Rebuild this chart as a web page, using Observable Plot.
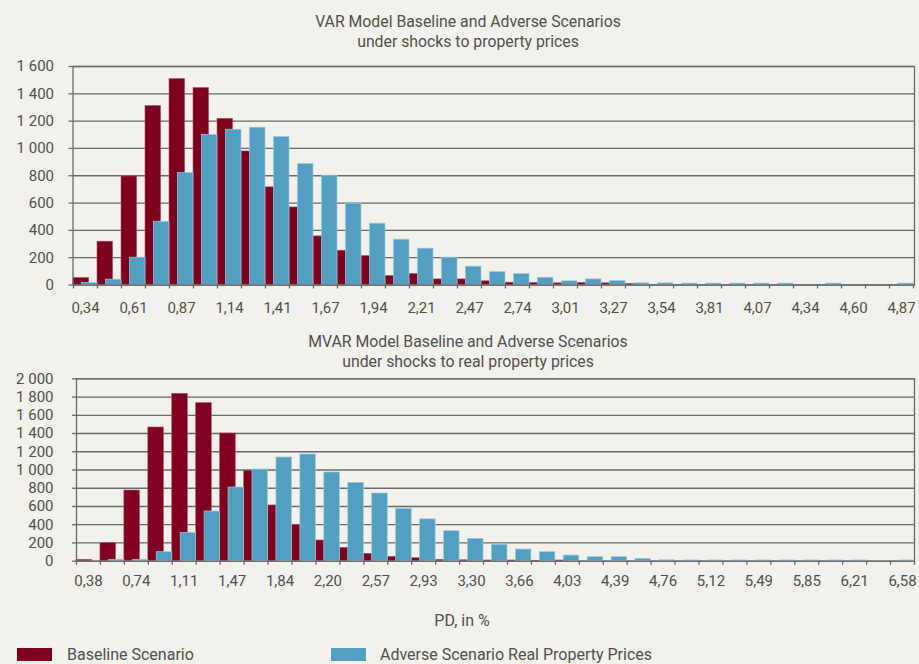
<!DOCTYPE html>
<html>
<head>
<meta charset="utf-8">
<script src="https://cdn.jsdelivr.net/npm/d3@7"></script>
<script src="https://cdn.jsdelivr.net/npm/@observablehq/plot@0.6"></script>
<style>
  html, body { margin: 0; padding: 0; background: #f2f1eb; }
  #wrap { position: relative; width: 919px; height: 664px; overflow: hidden; background: #f2f1eb;
          font-family: Roboto, "Noto Sans", sans-serif; color: #505050; }
  .abs { position: absolute; }
  .title { left: 0; width: 936px; text-align: center; font-size: 15.8px; line-height: 20px; color: #505050; }
  .leg { font-size: 16px; color: #505050; }
  .sw { position: absolute; width: 35px; height: 13px; }
</style>
</head>
<body>
<div id="wrap">
  <div class="abs title" style="top:12px">VAR Model Baseline and Adverse Scenarios<br>under shocks to property prices</div>
  <div id="c1" class="abs" style="left:0;top:0"></div>
  <div class="abs title" style="top:332px">MVAR Model Baseline and Adverse Scenarios<br>under shocks to real property prices</div>
  <div id="c2" class="abs" style="left:0;top:320px"></div>
  <div class="abs leg" style="left:0;width:924px;text-align:center;top:611px">PD, in %</div>
  <div class="sw" style="left:17px;top:648px;background:#80001f"></div>
  <div class="abs leg" style="left:67px;top:645px">Baseline Scenario</div>
  <div class="sw" style="left:331px;top:648px;background:#529fc1"></div>
  <div class="abs leg" style="left:380px;top:645px">Adverse Scenario Real Property Prices</div>
</div>
<script>
// ---------- data ----------
const varCats = ["0,34","0,47","0,61","0,74","0,87","1,00","1,14","1,27","1,41","1,54","1,67","1,81","1,94","2,07","2,21","2,34","2,47","2,61","2,74","2,87","3,01","3,14","3,27","3,41","3,54","3,67","3,81","3,94","4,07","4,21","4,34","4,47","4,60","4,74","4,87"];
const varTickLabels = ["0,34","0,61","0,87","1,14","1,41","1,67","1,94","2,21","2,47","2,74","3,01","3,27","3,54","3,81","4,07","4,34","4,60","4,87"];
const varBaseline = [51,317,795,1310,1508,1442,1217,978,715,568,356,251,212,66,80,41,41,27,17,15,12,15,12,8,0,0,0,0,0,0,0,0,0,0,0];
const varAdverse  = [15,39,200,463,820,1098,1137,1152,1083,886,800,595,449,332,266,200,134,95,80,53,27,41,29,12,12,10,10,10,10,10,0,10,0,0,10];
const varYTicks = [0,200,400,600,800,1000,1200,1400,1600];

const mvarCats = ["0,38","0,56","0,74","0,93","1,11","1,29","1,47","1,66","1,84","2,02","2,20","2,39","2,57","2,75","2,93","3,12","3,30","3,48","3,66","3,85","4,03","4,21","4,39","4,58","4,76","4,94","5,12","5,31","5,49","5,67","5,85","6,03","6,21","6,40","6,58"];
const mvarTickLabels = ["0,38","0,74","1,11","1,47","1,84","2,20","2,57","2,93","3,30","3,66","4,03","4,39","4,76","5,12","5,49","5,85","6,21","6,58"];
const mvarBaseline = [15,197,775,1466,1835,1733,1400,991,611,395,227,147,81,48,33,15,10,8,8,5,8,0,0,0,0,0,0,0,0,0,0,0,0,0,0];
const mvarAdverse  = [0,15,15,99,311,545,808,1005,1137,1170,973,859,742,574,459,329,245,180,128,99,62,44,44,26,10,8,8,8,8,8,8,8,8,0,8];
const mvarYTicks = [0,200,400,600,800,1000,1200,1400,1600,1800,2000];

const MAROON = "#80001f", BLUE = "#529fc1", GRID = "#6a6a6a";
const loc = d3.formatLocale({decimal: ",", thousands: " ", grouping: [3]});
const fmt = loc.format(",");

function chart({cats, tickLabels, base, adv, yTicks, yMax, width, height, mt, mb, ml, mr, labelPad, yPad}) {
  const bw = (width - ml - mr) / cats.length;
  const rows = cats.map((c, i) => ({cat: c, b: base[i], a: adv[i]}));
  return Plot.plot({
    width, height, marginTop: mt, marginBottom: mb, marginLeft: ml, marginRight: mr,
    style: {background: "transparent", fontFamily: "Roboto, 'Noto Sans', sans-serif", fontSize: "15px", color: "#505050", overflow: "visible"},
    x: {type: "band", domain: cats, padding: 0, label: null},
    y: {domain: [0, yMax], label: null},
    marks: [
      Plot.gridY(yTicks, {stroke: GRID, strokeOpacity: 1, strokeWidth: 1.3}),
      Plot.barY(rows, {x: "cat", y: "b", fill: MAROON, stroke: "#a8506a", strokeWidth: 0.6, insetRight: bw * 0.35}),
      Plot.barY(rows, {x: "cat", y: "a", fill: BLUE, stroke: "#9cc9de", strokeWidth: 0.7, insetLeft: bw * 0.35}),
      Plot.frame({stroke: GRID, strokeWidth: 1.3}),
      Plot.axisY({ticks: yTicks, tickFormat: fmt, tickSize: 4, tickPadding: yPad, stroke: GRID, strokeWidth: 1.3}),
      Plot.axisX({ticks: cats, tickFormat: () => "", tickSize: 4, dx: -bw / 2, stroke: GRID, strokeWidth: 1.3}),
      Plot.axisX({ticks: [cats[cats.length - 1]], tickFormat: () => "", tickSize: 4, dx: bw / 2, stroke: GRID, strokeWidth: 1.3}),
      Plot.axisX({ticks: tickLabels, tickSize: 0, tickPadding: labelPad, style: "letter-spacing:0.6px"})
    ]
  });
}

document.getElementById("c1").appendChild(chart({
  cats: varCats, tickLabels: varTickLabels, base: varBaseline, adv: varAdverse, yTicks: varYTicks, yMax: 1600,
  width: 919, height: 320, mt: 66, mb: 35.5, ml: 72.5, mr: 5, labelPad: 17, yPad: 15
}));
document.getElementById("c2").appendChild(chart({
  cats: mvarCats, tickLabels: mvarTickLabels, base: mvarBaseline, adv: mvarAdverse, yTicks: mvarYTicks, yMax: 2000,
  width: 919, height: 344, mt: 58.3, mb: 103.3, ml: 76, mr: 5, labelPad: 14, yPad: 19
}));
</script>
</body>
</html>
